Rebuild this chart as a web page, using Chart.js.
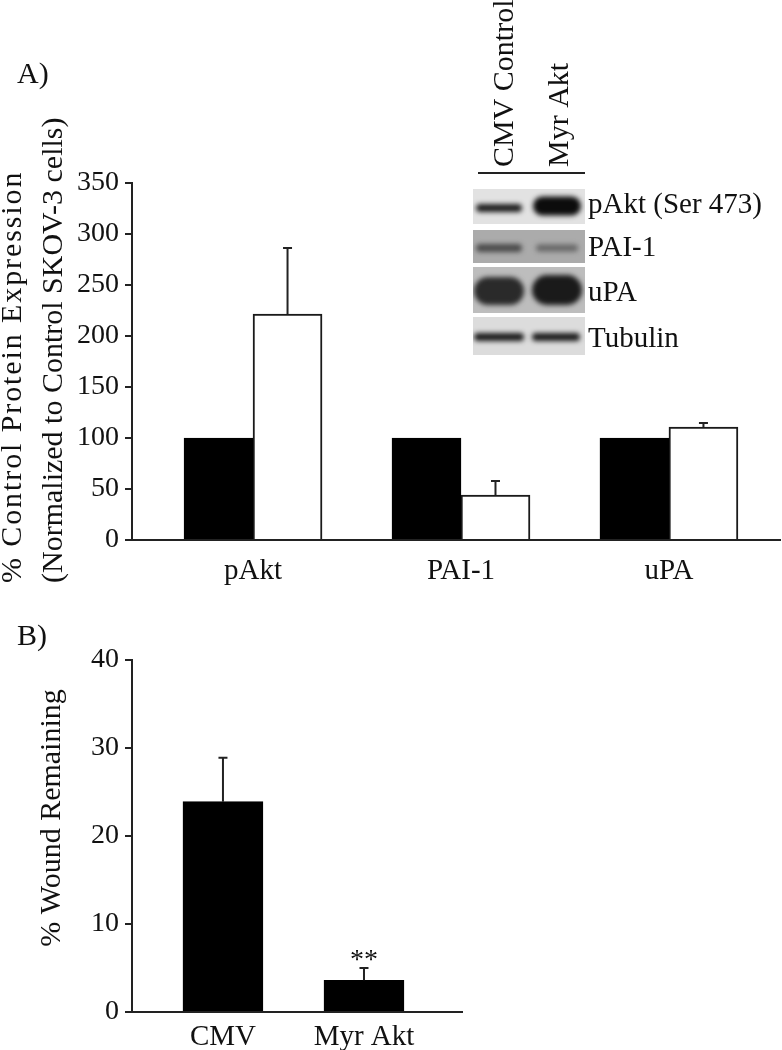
<!DOCTYPE html>
<html>
<head>
<meta charset="utf-8">
<script src="https://cdn.jsdelivr.net/npm/chart.js@4.4.1/dist/chart.umd.min.js"></script>
<style>
    html, body { margin: 0; padding: 0; background: #fff; }
    #wrap { position: relative; width: 782px; height: 1050px; }
    #chartA { position: absolute; left: 0; top: 0; }
    #chartB { position: absolute; left: 0; top: 600px; }
</style>
</head>
<body>
<div id="wrap">
    <canvas id="chartA" width="782" height="600"></canvas>
    <canvas id="chartB" width="782" height="450"></canvas>
</div>
<script>
// Panel A: expresión de proteína
const categoriasA = ['pAkt', 'PAI-1', 'uPA'];
const controlA = [100, 100, 100];
const myrAktA = [221.6, 44.1, 110.8];
const myrAktErrA = [64.7, 13.7, 3.9];
const ticksA = [0, 50, 100, 150, 200, 250, 300, 350];

// Panel B: herida restante
const categoriasB = ['CMV', 'Myr Akt'];
const heridaB = [23.9, 3.6];
const heridaErrB = [5.0, 1.4];
const signifB = ['', '**'];
const ticksB = [0, 10, 20, 30, 40];

// Inserto del western blot
const carrilesBlot = ['CMV Control', 'Myr Akt'];
const proteinasBlot = ['pAkt (Ser 473)', 'PAI-1', 'uPA', 'Tubulin'];

const SERIF = '"Liberation Serif", "Times New Roman", serif';
const INK = '#111';

Chart.defaults.font.family = SERIF;
Chart.defaults.color = INK;

// Barras de error (solo hacia arriba) y marcas de significancia
const errorBarsPlugin = {
    id: 'errorBars',
    afterDatasetsDraw(chart) {
        const ctx = chart.ctx;
        const yScale = chart.scales.y;
        chart.data.datasets.forEach((ds, i) => {
            if (!ds.errores) return;
            const meta = chart.getDatasetMeta(i);
            meta.data.forEach((bar, j) => {
                const err = ds.errores[j];
                if (!err) return;
                const top = yScale.getPixelForValue(ds.data[j].y + err);
                ctx.save();
                ctx.strokeStyle = '#222';
                ctx.lineWidth = 2;
                ctx.beginPath();
                ctx.moveTo(bar.x, bar.y);
                ctx.lineTo(bar.x, top);
                ctx.moveTo(bar.x - 4.5, top);
                ctx.lineTo(bar.x + 4.5, top);
                ctx.stroke();
                if (ds.marcas && ds.marcas[j]) {
                    ctx.fillStyle = INK;
                    ctx.font = `28px ${SERIF}`;
                    ctx.textAlign = 'center';
                    ctx.textBaseline = 'alphabetic';
                    ctx.fillText(ds.marcas[j], bar.x, top);
                }
                ctx.restore();
            });
        });
    }
};

function textoVertical(ctx, txt, x, y, align, size, espacio = 0) {
    ctx.save();
    ctx.translate(x, y);
    ctx.rotate(-Math.PI / 2);
    ctx.textAlign = align;
    ctx.textBaseline = 'alphabetic';
    ctx.font = `${size}px ${SERIF}`;
    if (espacio) ctx.letterSpacing = `${espacio}px`;
    ctx.fillStyle = INK;
    ctx.fillText(txt, 0, 0);
    ctx.restore();
}

function texto(ctx, txt, x, y, size) {
    ctx.save();
    ctx.textAlign = 'left';
    ctx.textBaseline = 'alphabetic';
    ctx.font = `${size}px ${SERIF}`;
    ctx.fillStyle = INK;
    ctx.fillText(txt, x, y);
    ctx.restore();
}

// Dibuja el inserto del blot (imagen aproximada)
function dibujarBlot(ctx) {
    const x0 = 473, x1 = 585;
    const paneles = [
        { top: 189, bottom: 224, fondo: '#e2e2e2', base: 213,
          bandas: [{ cx: 499, cy: 208, w: 46, h: 8, c: '#1c1c1c' }, { cx: 557, cy: 206, w: 48, h: 19, c: '#0c0c0c' }] },
        { top: 230, bottom: 263, fondo: '#ababab', base: 256,
          bandas: [{ cx: 499, cy: 248, w: 46, h: 8, c: '#4a4a4a' }, { cx: 557, cy: 248, w: 42, h: 7, c: '#666' }] },
        { top: 267, bottom: 313, fondo: '#bdbdbd', base: 301,
          bandas: [{ cx: 499, cy: 291, w: 50, h: 28, c: '#2a2a2a' }, { cx: 557, cy: 290, w: 50, h: 30, c: '#1a1a1a' }] },
        { top: 317, bottom: 355, fondo: '#dcdcdc', base: 347,
          bandas: [{ cx: 499, cy: 337, w: 50, h: 8, c: '#1a1a1a' }, { cx: 556, cy: 337, w: 48, h: 8, c: '#1a1a1a' }] }
    ];

    paneles.forEach((p, k) => {
        ctx.save();
        ctx.beginPath();
        ctx.rect(x0, p.top, x1 - x0, p.bottom - p.top);
        ctx.clip();
        ctx.fillStyle = p.fondo;
        ctx.fillRect(x0, p.top, x1 - x0, p.bottom - p.top);
        ctx.filter = 'blur(2.5px)';
        p.bandas.forEach(b => {
            ctx.fillStyle = b.c;
            ctx.beginPath();
            ctx.roundRect(b.cx - b.w / 2, b.cy - b.h / 2, b.w, b.h, b.h / 2);
            ctx.fill();
        });
        ctx.restore();
        texto(ctx, proteinasBlot[k], 588, p.base, 29);
    });

    // Etiquetas de carril
    textoVertical(ctx, carrilesBlot[0], 513, 167, 'left', 30);
    textoVertical(ctx, carrilesBlot[1], 568, 167, 'left', 30);
    ctx.save();
    ctx.strokeStyle = '#222';
    ctx.lineWidth = 2;
    ctx.beginPath();
    ctx.moveTo(478, 173);
    ctx.lineTo(585, 173);
    ctx.stroke();
    ctx.restore();
}

const decoracionA = {
    id: 'decoracionA',
    afterDraw(chart) {
        const ctx = chart.ctx;
        texto(ctx, 'A)', 17, 83, 30);
        textoVertical(ctx, '% Control Protein Expression', 21, 583, 'left', 30, 1.9);
        textoVertical(ctx, '(Normalized to Control SKOV-3 cells)', 62, 583, 'left', 30);
        dibujarBlot(ctx);
    }
};

const decoracionB = {
    id: 'decoracionB',
    afterDraw(chart) {
        const ctx = chart.ctx;
        texto(ctx, 'B)', 17, 45, 30);
        textoVertical(ctx, '% Wound Remaining', 60, 218, 'center', 30);
    }
};

function ejeY(ticks, max, size) {
    return {
        min: 0,
        max: max,
        afterBuildTicks: (s) => { s.ticks = ticks.map(v => ({ value: v })); },
        afterFit: (s) => { s.width = 132; },
        ticks: { font: { family: SERIF, size: size }, color: INK, padding: 6 },
        grid: { drawOnChartArea: false, drawTicks: true, tickLength: 7, color: '#222', lineWidth: 2 },
        border: { display: true, color: '#222', width: 2 }
    };
}

function ejeX(categorias, min, max, alto, padding) {
    return {
        type: 'linear',
        offset: false,
        min: min,
        max: max,
        afterBuildTicks: (s) => { s.ticks = categorias.map((c, i) => ({ value: i })); },
        afterFit: (s) => { s.height = alto; },
        ticks: {
            callback: (v) => categorias[v],
            font: { family: SERIF, size: 29 },
            color: INK,
            padding: padding,
            maxRotation: 0,
            autoSkip: false
        },
        grid: { display: false, drawTicks: false, offset: false },
        border: { display: true, color: '#222', width: 2 }
    };
}

// Gráfico A
new Chart(document.getElementById('chartA'), {
    type: 'bar',
    data: {
        datasets: [
            {
                label: 'CMV Control',
                data: controlA.map((v, i) => ({ x: i, y: v })),
                backgroundColor: '#000',
                borderColor: '#000',
                borderWidth: 2,
                barThickness: 69
            },
            {
                label: 'Myr Akt',
                data: myrAktA.map((v, i) => ({ x: i, y: v })),
                errores: myrAktErrA,
                backgroundColor: '#fff',
                borderColor: '#1a1a1a',
                borderWidth: 2,
                barThickness: 69
            }
        ]
    },
    options: {
        responsive: false,
        animation: false,
        devicePixelRatio: 1,
        layout: { padding: { top: 183, right: 2, bottom: 0, left: 0 } },
        scales: {
            x: ejeX(categoriasA, -0.582, 2.534, 60, 14),
            y: ejeY(ticksA, 350, 28)
        },
        plugins: { legend: { display: false }, tooltip: { enabled: false } }
    },
    plugins: [errorBarsPlugin, decoracionA]
});

// Gráfico B
new Chart(document.getElementById('chartB'), {
    type: 'bar',
    data: {
        datasets: [
            {
                label: '% Wound Remaining',
                data: heridaB.map((v, i) => ({ x: i, y: v })),
                errores: heridaErrB,
                marcas: signifB,
                backgroundColor: '#000',
                borderColor: '#000',
                borderWidth: 2,
                barThickness: 80
            }
        ]
    },
    options: {
        responsive: false,
        animation: false,
        devicePixelRatio: 1,
        layout: { padding: { top: 60, right: 320, bottom: 0, left: 0 } },
        scales: {
            x: ejeX(categoriasB, -0.645, 1.695, 38, 8),
            y: ejeY(ticksB, 40, 28)
        },
        plugins: { legend: { display: false }, tooltip: { enabled: false } }
    },
    plugins: [errorBarsPlugin, decoracionB]
});
</script>
</body>
</html>
